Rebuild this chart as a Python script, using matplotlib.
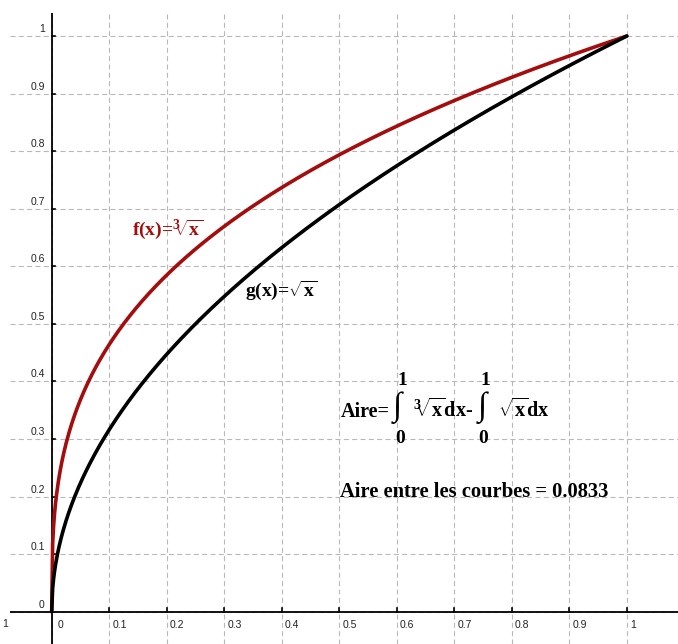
import numpy as np
import matplotlib.pyplot as plt
from matplotlib.transforms import offset_copy

plt.rcParams['mathtext.fontset'] = 'custom'
plt.rcParams['mathtext.rm'] = 'Liberation Serif:bold'
plt.rcParams['mathtext.it'] = 'Liberation Serif:bold'
plt.rcParams['mathtext.bf'] = 'Liberation Serif:bold'

# data
x_ticks = [0, 0.1, 0.2, 0.3, 0.4, 0.5, 0.6, 0.7, 0.8, 0.9, 1]
x_labels = ['0', '0.1', '0.2', '0.3', '0.4', '0.5', '0.6', '0.7', '0.8', '0.9', '1']
y_ticks = [0, 0.1, 0.2, 0.3, 0.4, 0.5, 0.6, 0.7, 0.8, 0.9, 1]
y_labels = ['0', '0.1', '0.2', '0.3', '0.4', '0.5', '0.6', '0.7', '0.8', '0.9', '1']
aire = 0.0833

xs = np.linspace(0, 1, 600)
f_vals = np.cbrt(xs)   # f(x) = cube root of x
g_vals = np.sqrt(xs)   # g(x) = square root of x

red = '#a30d0d'
serif = 'Liberation Serif'
cbrt_x = r'$^{3}\!\!\sqrt{\mathrm{x}}$'
sqrt_x = r'$\sqrt{\mathrm{x}}$'

fig = plt.figure(figsize=(6.78, 6.44), dpi=100)
ax = fig.add_axes([10 / 678, 0, 668 / 678, 631 / 644])
ax.set_xlim(-0.0725, 1.089)
ax.set_ylim(-0.056, 1.040)
for s in ax.spines.values():
    s.set_visible(False)
ax.set_xticks([])
ax.set_yticks([])

# grid
for v in x_ticks:
    ax.axvline(v, color='#b8b8b8', lw=0.8, ls=(0, (4.5, 3)), zorder=0)
for v in y_ticks:
    ax.axhline(v, color='#b8b8b8', lw=0.8, ls=(0, (4.5, 3)), zorder=0)

# axes
ax.axhline(0, color='black', lw=1.3, zorder=2)
ax.axvline(0, color='black', lw=1.3, zorder=2)

# tick marks and labels
tick_len = 0.006
for v, lab in zip(x_ticks, x_labels):
    if v != 0:
        ax.plot([v, v], [0, tick_len], color='black', lw=1.2, zorder=2)
    dx = 6 if v == 0 else 3
    tr = offset_copy(ax.transData, fig=fig, x=dx, y=-8, units='dots')
    ax.text(v, 0, lab, transform=tr, ha='left', va='top', fontsize=7.5,
            family='Liberation Sans', color='#222222')
for v, lab in zip(y_ticks, y_labels):
    if v != 0:
        ax.plot([0, tick_len], [v, v], color='black', lw=1.2, zorder=2)
    tr = offset_copy(ax.transData, fig=fig, x=-7, y=2, units='dots')
    ax.text(0, v, lab, transform=tr, ha='right', va='bottom', fontsize=7.5,
            family='Liberation Sans', color='#222222')
fig.text(5 / 678, 1 - 624 / 644, '1', ha='center', va='center', fontsize=7.5,
         family='Liberation Sans', color='#222222')

# curves
ax.plot(xs, f_vals, color=red, lw=2.6, zorder=3, solid_capstyle='round')
ax.plot(xs, g_vals, color='black', lw=2.6, zorder=3, solid_capstyle='round')

# labels of curves
ax.text(0.1397, 0.654, 'f(x)=' + cbrt_x, color=red, family=serif, weight='bold',
        fontsize=14, ha='left', va='baseline')
ax.text(0.336, 0.548, 'g(x)=' + sqrt_x, color='black', family=serif, weight='bold',
        fontsize=14, ha='left', va='baseline')

# integral expression
base = 0.3387
ax.text(0.5026, base, 'Aire=', family=serif, weight='bold', fontsize=14.5,
        ha='left', va='baseline')
for xi, xl in [(0.6014, 0.6092), (0.7492, 0.7536)]:
    ax.text(xi, 0.3547, '\u222b', family=serif, fontsize=24, ha='center', va='center')
    ax.text(xl, 0.4025, '1', family=serif, weight='bold', fontsize=14,
            ha='center', va='center')
    ax.text(xl - 0.003, 0.3017, '0', family=serif, weight='bold', fontsize=14,
            ha='center', va='center')
ax.text(0.628, base, cbrt_x + 'dx-', family=serif, weight='bold', fontsize=14.5,
        ha='left', va='baseline')
ax.text(0.776, base, sqrt_x + 'dx', family=serif, weight='bold', fontsize=14.5,
        ha='left', va='baseline')

ax.text(0.5014, 0.1992, 'Aire entre les courbes = %.4f' % aire, family=serif,
        weight='bold', fontsize=14.8, ha='left', va='baseline')

fig.savefig('out.png', dpi=100)
